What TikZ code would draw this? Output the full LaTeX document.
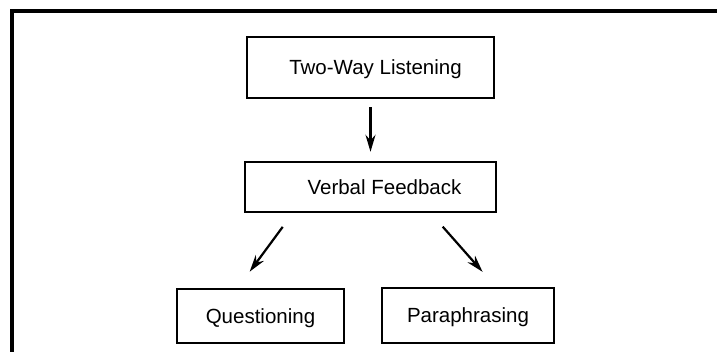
\documentclass[tikz,border=0pt]{standalone}
\usepackage{fontspec}
\setmainfont{Liberation Sans}
\usetikzlibrary{arrows.meta}

\begin{document}
\begin{tikzpicture}[x=1pt, y=-1pt, >={Stealth[length=17pt,width=10pt]},
  caixa/.style={draw, line width=2.4pt, inner sep=0pt, text height=16pt, text depth=1pt,
    font=\fontsize{20.5}{24}\selectfont},
  seta/.style={->, line width=2.2pt}]
  \useasboundingbox (0,0) rectangle (717,352);
  % moldura
  \draw[line width=3.2pt] (12,352) -- (12,11) -- (717,11);
  \node[caixa, minimum width=247pt, minimum height=61pt] (listen) at (370.5,67.5) {\hspace*{10pt}Two-Way Listening};
  \node[caixa, minimum width=251pt, minimum height=50pt] (verbal) at (370.5,187) {\hspace*{28pt}Verbal Feedback};
  \node[caixa, minimum width=167pt, minimum height=54pt] (quest) at (260.5,316) {Questioning};
  \node[caixa, minimum width=172pt, minimum height=55pt] (para) at (468,315.5) {Paraphrasing};
  % setas
  \draw[seta, shorten <=8pt, shorten >=9pt] (listen.south) -- (verbal.north);
  \draw[seta, shorten <=17pt, shorten >=20pt] ([xshift=49pt]verbal.south west) -- ([xshift=62pt]quest.north west);
  \draw[seta, shorten <=18pt, shorten >=20pt] ([xshift=187pt]verbal.south west) -- ([xshift=115pt]para.north west);
\end{tikzpicture}
\end{document}
